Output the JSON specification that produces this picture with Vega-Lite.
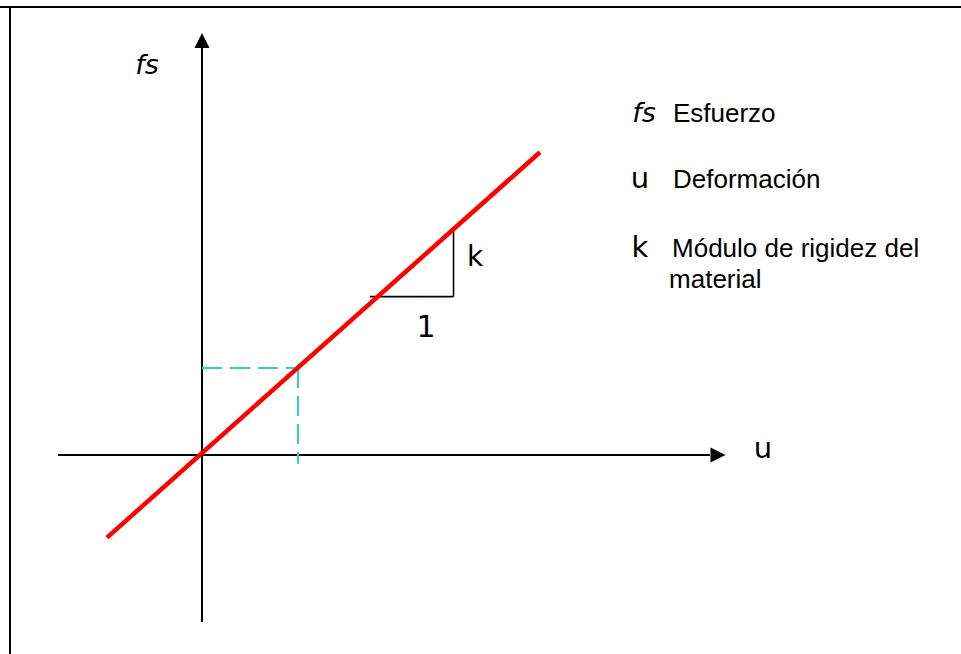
{
  "$schema": "https://vega.github.io/schema/vega-lite/v6.json",
  "width": 961,
  "height": 654,
  "autosize": "none",
  "padding": 0,
  "background": "white",
  "config": {"view": {"stroke": null}},
  "datasets": {
    "frame": [
      {"u": -2.1042, "fs": 5.149, "u2": 7.9063, "fs2": 5.149},
      {"u": -2.0, "fs": 5.149, "u2": -2.0, "fs2": -2.2874}
    ],
    "axes": [
      {"u": -1.5, "fs": 0, "u2": 5.29, "fs2": 0},
      {"u": 0, "fs": -1.92, "u2": 0, "fs2": 4.68}
    ],
    "heads": [
      {"u": 5.375, "fs": 0, "shape": "M1,0L-1,-1L-1,1Z"},
      {"u": 0, "fs": 4.764, "shape": "M0,-1L1,1L-1,1Z"}
    ],
    "dashed": [
      {"u": 0, "fs": 1, "u2": 1, "fs2": 1},
      {"u": 1, "fs": 1, "u2": 1, "fs2": -0.1}
    ],
    "triangle": [
      {"u": 1.75, "fs": 1.82, "u2": 2.62, "fs2": 1.82},
      {"u": 2.62, "fs": 1.82, "u2": 2.62, "fs2": 2.6}
    ],
    "redline": [
      {"u": -0.99, "fs": -0.95, "u2": 3.52, "fs2": 3.48}
    ],
    "italic": [
      {"u": -0.573, "fs": 4.379, "text": "fs", "sz": 27},
      {"u": 4.604, "fs": 3.828, "text": "fs", "sz": 27}
    ],
    "symbols": [
      {"u": 5.844, "fs": -0.034, "text": "u", "sz": 29},
      {"u": 4.5625, "fs": 3.069, "text": "u", "sz": 29},
      {"u": 4.5625, "fs": 2.276, "text": "k", "sz": 29},
      {"u": 2.844, "fs": 2.172, "text": "k", "sz": 28},
      {"u": 2.333, "fs": 1.356, "text": "1", "sz": 30}
    ],
    "labels": [
      {"u": 4.906, "fs": 3.828, "text": "Esfuerzo"},
      {"u": 4.906, "fs": 3.069, "text": "Deformación"},
      {"u": 4.896, "fs": 2.276, "text": "Módulo de rigidez del"},
      {"u": 4.865, "fs": 1.92, "text": "material"}
    ]
  },
  "encoding": {
    "x": {"field": "u", "type": "quantitative", "axis": null, "scale": {"domain": [-2.1042, 7.9063], "nice": false, "zero": false}},
    "y": {"field": "fs", "type": "quantitative", "axis": null, "scale": {"domain": [-2.2874, 5.2299], "nice": false, "zero": false}}
  },
  "layer": [
    {
      "data": {"name": "frame"},
      "mark": {"type": "rule", "stroke": "black", "strokeWidth": 2},
      "encoding": {"x2": {"field": "u2"}, "y2": {"field": "fs2"}}
    },
    {
      "data": {"name": "axes"},
      "mark": {"type": "rule", "stroke": "black", "strokeWidth": 2},
      "encoding": {"x2": {"field": "u2"}, "y2": {"field": "fs2"}}
    },
    {
      "data": {"name": "heads"},
      "mark": {"type": "point", "filled": true, "fill": "black", "stroke": null, "opacity": 1, "size": 225},
      "encoding": {"shape": {"field": "shape", "type": "nominal", "scale": null}}
    },
    {
      "data": {"name": "dashed"},
      "mark": {"type": "rule", "stroke": "#33CCCC", "strokeWidth": 2, "strokeDash": [20, 8]},
      "encoding": {"x2": {"field": "u2"}, "y2": {"field": "fs2"}}
    },
    {
      "data": {"name": "triangle"},
      "mark": {"type": "rule", "stroke": "black", "strokeWidth": 1.6},
      "encoding": {"x2": {"field": "u2"}, "y2": {"field": "fs2"}}
    },
    {
      "data": {"name": "redline"},
      "mark": {"type": "rule", "stroke": "#FF0000", "strokeWidth": 4.5},
      "encoding": {"x2": {"field": "u2"}, "y2": {"field": "fs2"}}
    },
    {
      "data": {"name": "italic"},
      "mark": {"type": "text", "font": "DejaVu Sans", "fontStyle": "italic", "align": "center", "baseline": "alphabetic", "color": "black"},
      "encoding": {"text": {"field": "text"}, "size": {"field": "sz", "type": "quantitative", "scale": null}}
    },
    {
      "data": {"name": "symbols"},
      "mark": {"type": "text", "font": "DejaVu Sans", "align": "center", "baseline": "alphabetic", "color": "black"},
      "encoding": {"text": {"field": "text"}, "size": {"field": "sz", "type": "quantitative", "scale": null}}
    },
    {
      "data": {"name": "labels"},
      "mark": {"type": "text", "font": "Liberation Sans", "fontSize": 26, "align": "left", "baseline": "alphabetic", "color": "black"},
      "encoding": {"text": {"field": "text"}}
    }
  ]
}
